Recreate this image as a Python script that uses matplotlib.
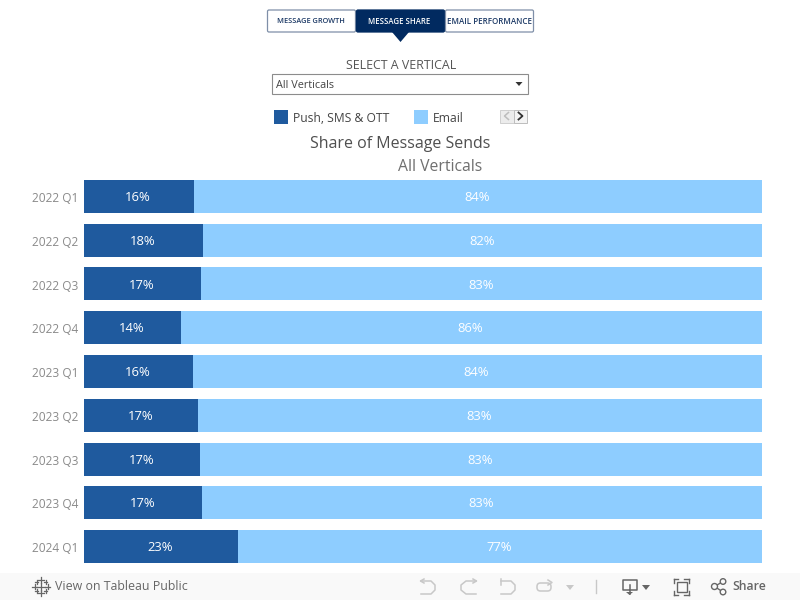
import matplotlib
matplotlib.use("Agg")
import matplotlib.pyplot as plt
from matplotlib.patches import Rectangle, Polygon, FancyBboxPatch, Circle
from matplotlib.transforms import ScaledTranslation

plt.rcParams['font.family'] = ['Open Sans', 'DejaVu Sans']

quarters = ["2022 Q1", "2022 Q2", "2022 Q3", "2022 Q4", "2023 Q1", "2023 Q2", "2023 Q3", "2023 Q4", "2024 Q1"]
push_share = [16.2, 17.6, 17.3, 14.3, 16.1, 16.8, 17.1, 17.4, 22.7]
email_share = [83.8, 82.4, 82.7, 85.7, 83.9, 83.2, 82.9, 82.6, 77.3]
push_labels = ["16%", "18%", "17%", "14%", "16%", "17%", "17%", "17%", "23%"]
email_labels = ["84%", "82%", "83%", "86%", "84%", "83%", "83%", "83%", "77%"]
tabs = ["MESSAGE GROWTH", "MESSAGE SHARE", "EMAIL PERFORMANCE"]

DARK = "#1f5a9e"
LIGHT = "#8ecdff"
NAVY = "#012a60"

fig = plt.figure(figsize=(8, 6), dpi=100, facecolor="white")

# Bars
ax = fig.add_axes([84/800, 1-568.4/600, 678/800, (568.4-174.6)/600])
y = list(range(len(quarters)))
ax.barh(y, push_share, height=0.754, color=DARK, linewidth=0)
ax.barh(y, email_share, left=push_share, height=0.754, color=LIGHT, linewidth=0)
ax.set_xlim(0, 100)
ax.set_ylim(8.5, -0.5)
ax.set_yticks(y, quarters, fontsize=8.6, color="#8a8a8a")
ax.set_xticks([])
ax.tick_params(axis="y", length=0, pad=4.3)
shift = ScaledTranslation(0, -0.7/100, fig.dpi_scale_trans)
for lab in ax.get_yticklabels():
    lab.set_transform(lab.get_transform() + shift)
for s in ax.spines.values():
    s.set_visible(False)
for i in y:
    ax.annotate(push_labels[i], (push_share[i]/2 - 0.1, i), xytext=(0, -0.8), textcoords="offset points",
                color="white", fontsize=9.4, ha="center", va="center")
    ax.annotate(email_labels[i], (push_share[i] + email_share[i]/2 - 0.15, i), xytext=(0, -0.8), textcoords="offset points",
                color="white", fontsize=9.4, ha="center", va="center")

# Page chrome in pixel coordinates
ov = fig.add_axes([0, 0, 1, 1], zorder=5)
ov.set_xlim(0, 800)
ov.set_ylim(600, 0)
ov.axis("off")

# Navigation tabs
for x0, x1, label, active, fs in [(267.5, 355.5, tabs[0], False, 5.35), (356.5, 444.5, tabs[1], True, 5.55), (445.5, 533.5, tabs[2], False, 5.75)]:
    ov.add_patch(FancyBboxPatch((x0, 10), x1-x0, 22, boxstyle="round,pad=0,rounding_size=1.5",
                                fc=NAVY if active else "white", ec=NAVY if active else "#7f8fa8", lw=0.9))
    ov.text((x0+x1)/2 - (1 if label != tabs[2] else 0), 21.3, label, fontsize=fs, ha="center", va="center",
            color="white" if active else "#1d3a66", fontweight="semibold")
ov.add_patch(Polygon([[392, 32], [409, 32], [400.5, 42]], closed=True, fc=NAVY, ec="none"))

# Filter
ov.text(401, 65.5, "SELECT A VERTICAL", fontsize=8.9, ha="center", va="center", color="#555555")
ov.add_patch(Rectangle((272, 74), 256, 19.5, fc="white", ec="#8c8c8c", lw=0.8))
ov.text(276.5, 85, "All Verticals", fontsize=7.8, ha="left", va="center", color="#444444")
ov.add_patch(Polygon([[515.5, 82], [522.5, 82], [519, 86], ], closed=True, fc="#333333", ec="none"))

# Legend
ov.add_patch(Rectangle((274, 110), 14, 14, fc=DARK, ec="none"))
ov.text(293, 118.5, "Push, SMS & OTT", fontsize=8.7, ha="left", va="center", color="#444444")
ov.add_patch(Rectangle((414, 110), 14, 14, fc=LIGHT, ec="none"))
ov.text(433, 118.5, "Email", fontsize=8.7, ha="left", va="center", color="#444444")
ov.add_patch(Rectangle((500, 109.5), 13.5, 13, fc="#ececec", ec="#cfcfcf", lw=0.7))
ov.add_patch(Rectangle((513.5, 109.5), 13.5, 13, fc="#f4f4f4", ec="#bdbdbd", lw=0.7))
ov.plot([508.5, 504.5, 508.5], [112.5, 116, 119.5], color="#bdbdbd", lw=1.1)
ov.plot([518.5, 522.5, 518.5], [112.5, 116, 119.5], color="#333333", lw=1.3)

# Titles
ov.text(400.5, 144, "Share of Message Sends", fontsize=11.5, ha="center", va="center", color="#4f4f4f")
ov.text(440, 167, "All Verticals", fontsize=11.3, ha="center", va="center", color="#6f6f6f")

# Toolbar
ov.add_patch(Rectangle((0, 573), 800, 27, fc="#f9f9f9", ec="none"))
GL = "#c8c8c8"
GD = "#666666"
# logo
for cx, cy, r in [(41, 586.5, 4), (41, 580, 2.6), (41, 593, 2.6), (34.5, 586.5, 2.6), (47.5, 586.5, 2.6),
                  (36.5, 582, 1.8), (45.5, 582, 1.8), (36.5, 591, 1.8), (45.5, 591, 1.8)]:
    ov.plot([cx-r, cx+r], [cy, cy], color=GD, lw=0.9)
    ov.plot([cx, cx], [cy-r, cy+r], color=GD, lw=0.9)
ov.text(55, 587, "View on Tableau Public", fontsize=8.95, ha="left", va="center", color=GD, fontweight="medium")
# undo / redo / revert / refresh
ov.plot([421, 431, 435, 435, 431, 421], [581, 581, 585, 590, 594, 594], color=GL, lw=1.1)
ov.plot([424, 420.5, 424], [579, 581, 583], color=GL, lw=1.1)
ov.plot([476, 466, 461, 461, 466, 476], [581, 581, 585, 590, 594, 594], color=GL, lw=1.1)
ov.plot([473, 476.5, 473], [579, 581, 583], color=GL, lw=1.1)
ov.plot([501, 501], [579, 585], color=GL, lw=1.1)
ov.plot([501, 511, 515, 515, 511, 501], [581, 581, 585, 590, 594, 594], color=GL, lw=1.1)
ov.add_patch(FancyBboxPatch((537, 583), 14, 8, boxstyle="round,pad=0,rounding_size=3.5", fc="none", ec=GL, lw=1.1))
ov.plot([548, 552, 548], [580, 582.5, 585], color=GL, lw=1.1)
ov.add_patch(Polygon([[566, 585], [574, 585], [570, 590]], closed=True, fc=GL, ec="none"))
ov.plot([595.5, 595.5], [580, 593], color=GL, lw=1)
# download
ov.plot([629, 622.5, 622.5, 636.5, 636.5, 630], [590, 590, 580, 580, 590, 590], color=GD, lw=1.1)
ov.plot([629.5, 629.5], [585, 594], color=GD, lw=1.1)
ov.add_patch(Polygon([[626, 592], [633, 592], [629.5, 595]], closed=True, fc=GD, ec="none"))
ov.add_patch(Polygon([[642, 585], [650, 585], [646, 590]], closed=True, fc=GD, ec="none"))
# fullscreen
ov.add_patch(Rectangle((676.5, 582), 10, 10, fc="none", ec=GD, lw=1))
for xa, xb, ya, yb in [(673.5, 678, 579, 579), (673.5, 673.5, 579, 583), (684, 688.5, 579, 579), (688.5, 688.5, 579, 583),
                       (673.5, 678, 595, 595), (673.5, 673.5, 590.5, 595), (684, 688.5, 595, 595), (688.5, 688.5, 590.5, 595)]:
    ov.plot([xa, xb], [ya, yb], color=GD, lw=1)
# share
ov.plot([723, 714.5, 723], [581.5, 586.5, 592], color=GD, lw=1)
for cx, cy, r in [(714.5, 586.5, 3), (723, 581.5, 2.8), (723, 592, 2.8)]:
    ov.add_patch(Circle((cx, cy), r, fc="#f9f9f9", ec=GD, lw=1, zorder=3))
ov.text(732, 587, "Share", fontsize=8.8, ha="left", va="center", color=GD, fontweight="semibold")

fig.savefig("out.png", dpi=100)
